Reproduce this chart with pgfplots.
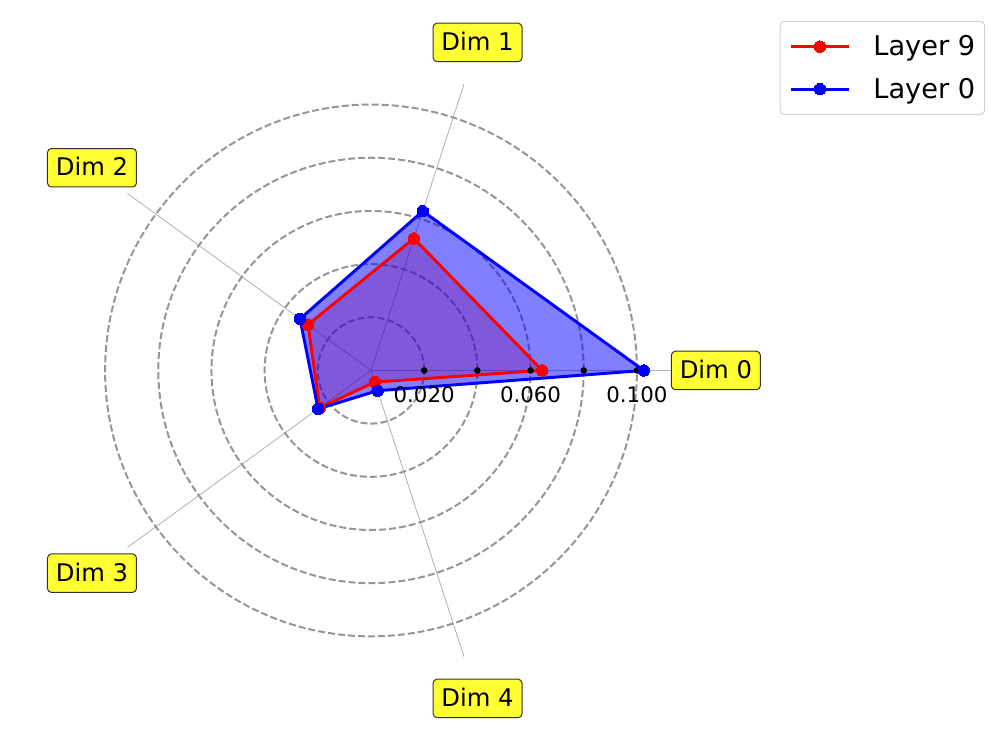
\documentclass[border=0pt]{standalone}
\usepackage{fontspec}
\setmainfont{DejaVu Sans}
\usepackage{pgfplots}
\pgfplotsset{compat=1.18}
\usepgfplotslibrary{polar}

\definecolor{ringgray}{RGB}{150,150,150}
\definecolor{spokegray}{RGB}{176,176,176}
\definecolor{labelfill}{RGB}{255,255,51}
\definecolor{labeledge}{RGB}{51,51,51}
\definecolor{legendedge}{RGB}{210,210,210}

\tikzset{
  dimlabel/.style={font=\fontsize{18.2pt}{21pt}\selectfont, fill=labelfill, draw=labeledge,
    line width=0.75pt, rounded corners=3pt, inner xsep=6.3pt, inner ysep=6.5pt,
    text depth=0.2em, anchor=center},
  ticklab/.style={font=\fontsize{16pt}{19pt}\selectfont, anchor=center, yshift=-18.4pt, inner sep=0pt},
}

\begin{document}
\begin{tikzpicture}
\path[use as bounding box] (0,0) rectangle (747pt,555.75pt);
\begin{polaraxis}[
  at={(278.25pt,277.9pt)}, anchor=center,
  width=451.5pt, height=451.5pt, scale only axis,
  ymin=0, ymax=0.1132,
  xtick={0,72,144,216,288},
  xticklabels={},
  ytick={0.02,0.04,0.06,0.08,0.1},
  yticklabels={},
  xmajorgrids, ymajorgrids,
  x grid style={spokegray, line width=0.6pt},
  y grid style={ringgray, line width=1.5pt, dash pattern=on 5.25pt off 2.25pt},
  axis line style={draw=none},
  major tick style={draw=none},
  clip=false,
  legend image code/.code={\draw[mark repeat=2,mark phase=2,#1] plot coordinates {(0pt,0pt)(21.75pt,0pt)(43.5pt,0pt)};},
  legend style={
    at={(1.520,1.0806)}, anchor=north east,
    draw=legendedge, line width=0.75pt, rounded corners=3pt, fill=white,
    font=\fontsize{20.4pt}{24pt}\selectfont,
    inner xsep=7pt, inner ysep=10.6pt, row sep=15.2pt,
    nodes={inner sep=0pt},
    /tikz/every odd column/.append style={column sep=17.25pt},
  },
  legend cell align=left,
]
% fills: Layer 9 under Layer 0
\addplot[draw=none, fill=red, fill opacity=0.3, forget plot] coordinates {
  (0,0.0644) (72,0.0522) (144,0.0293) (216,0.0238) (288,0.0046) (360,0.0644)};
\addplot[draw=none, fill=blue, fill opacity=0.5, forget plot] coordinates {
  (0,0.1026) (72,0.0630) (144,0.0330) (216,0.0246) (288,0.0080) (360,0.1026)};
% radial tick dots
\addplot[only marks, mark=*, mark size=2.2pt, black, forget plot] coordinates {
  (0,0.02) (0,0.04) (0,0.06) (0,0.08) (0,0.1)};
% Layer 9
\addplot[red, line width=2.2pt, line join=round, mark=*, mark size=4.3pt, mark options={solid, line width=0pt}] coordinates {
  (0,0.0644) (72,0.0522) (144,0.0293) (216,0.0238) (288,0.0046) (360,0.0644)};
\addlegendentry{Layer 9}
% Layer 0
\addplot[blue, line width=2.2pt, line join=round, mark=*, mark size=4.3pt, mark options={solid, line width=0pt}] coordinates {
  (0,0.1026) (72,0.0630) (144,0.0330) (216,0.0246) (288,0.0080) (360,0.1026)};
\addlegendentry{Layer 0}

\node[ticklab] at (axis cs:0,0.02) {0.020};
\node[ticklab] at (axis cs:0,0.06) {0.060};
\node[ticklab] at (axis cs:0,0.10) {0.100};

\node[dimlabel] at (axis cs:0,0.1297) {Dim 0};
\node[dimlabel] at (axis cs:72,0.1297) {Dim 1};
\node[dimlabel] at (axis cs:144,0.1297) {Dim 2};
\node[dimlabel] at (axis cs:216,0.1297) {Dim 3};
\node[dimlabel] at (axis cs:288,0.1297) {Dim 4};
\end{polaraxis}
\end{tikzpicture}
\end{document}
